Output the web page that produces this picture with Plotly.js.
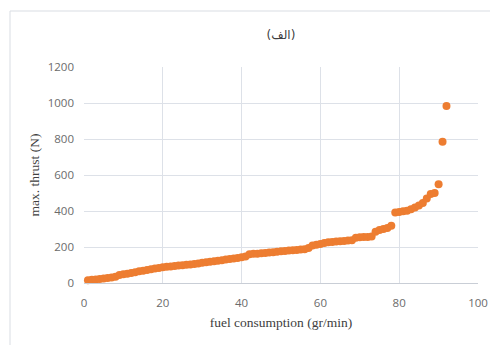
<!DOCTYPE html>
<html>
<head>
<meta charset="utf-8">
<script src="https://cdn.plot.ly/plotly-3.0.1.min.js"></script>
<style>
html,body{margin:0;padding:0;background:#fff;}
#chart{width:490px;height:345px;}
</style>
</head>
<body>
<div id="chart"></div>
<script>
const fuelConsumption = [1,2,3,4,5,6,7,8,9,10,11,12,13,14,15,16,17,18,19,20,21,22,23,24,25,26,27,28,29,30,31,32,33,34,35,36,37,38,39,40,41,42,43,44,45,46,47,48,49,50,51,52,53,54,55,56,57,58,59,60,61,62,63,64,65,66,67,68,69,70,71,72,73,74,75,76,77,78,79,80,81,82,83,84,85,86,87,88,89,90,91,92];
const maxThrust = [15,18,20,22,25,28,30,35,45,48,52,55,60,65,68,72,76,80,84,87,90,92,95,97,99,101,103,106,109,112,115,118,121,124,127,130,133,136,139,143,147,160,162,163,165,167,169,171,173,176,178,180,182,184,186,188,195,208,212,216,222,226,228,230,232,234,236,238,252,254,255,256,258,285,295,300,305,318,392,395,398,402,410,420,430,445,470,495,500,548,785,983];
const chartTitle = "(الف)";
const xTitle = "fuel consumption (gr/min)";
const yTitle = "max. thrust (N)";

const trace = {
  x: fuelConsumption,
  y: maxThrust,
  type: 'scatter',
  mode: 'markers',
  marker: {color: '#ED7D31', size: 8, line: {width: 0}},
  cliponaxis: false,
  hoverinfo: 'none'
};

const layout = {
  width: 490, height: 345,
  margin: {l: 84, r: 12, t: 67, b: 62},
  paper_bgcolor: '#ffffff',
  plot_bgcolor: '#ffffff',
  showlegend: false,
  title: {text: chartTitle, x: 0.5, xanchor: 'center', xref: 'paper', y: 0.90, yanchor: 'middle',
          font: {family: 'DejaVu Sans', size: 12, color: '#404040'}},
  xaxis: {
    range: [0, 100], dtick: 20, tick0: 0,
    showgrid: true, gridcolor: '#dde1e8', gridwidth: 1,
    zeroline: false, showline: true, linecolor: '#c9ced6', linewidth: 1,
    ticks: '', ticklabelstandoff: 9,
    tickfont: {family: 'Open Sans', size: 11.5, color: '#6b6b6b'},
    title: {text: xTitle, standoff: 8, font: {family: 'Liberation Serif', size: 13.5, color: '#404040'}}
  },
  yaxis: {
    range: [0, 1200], dtick: 200, tick0: 0,
    showgrid: true, gridcolor: '#dde1e8', gridwidth: 1,
    zeroline: false, showline: false,
    ticks: '', ticklabelstandoff: 9,
    tickfont: {family: 'Open Sans', size: 11.5, color: '#6b6b6b'},
    title: {text: yTitle, standoff: 4, font: {family: 'Liberation Serif', size: 13.5, color: '#404040'}}
  },
  shapes: [{
    type: 'rect', xref: 'paper', yref: 'paper',
    x0: (10 - 84) / 394, x1: (500 - 84) / 394,
    y0: (283 - 360) / 216, y1: (283 - 11) / 216,
    line: {color: '#d9dde3', width: 1}, fillcolor: 'rgba(0,0,0,0)', layer: 'below'
  }]
};

Plotly.newPlot('chart', [trace], layout, {displayModeBar: false, staticPlot: true});
</script>
</body>
</html>
